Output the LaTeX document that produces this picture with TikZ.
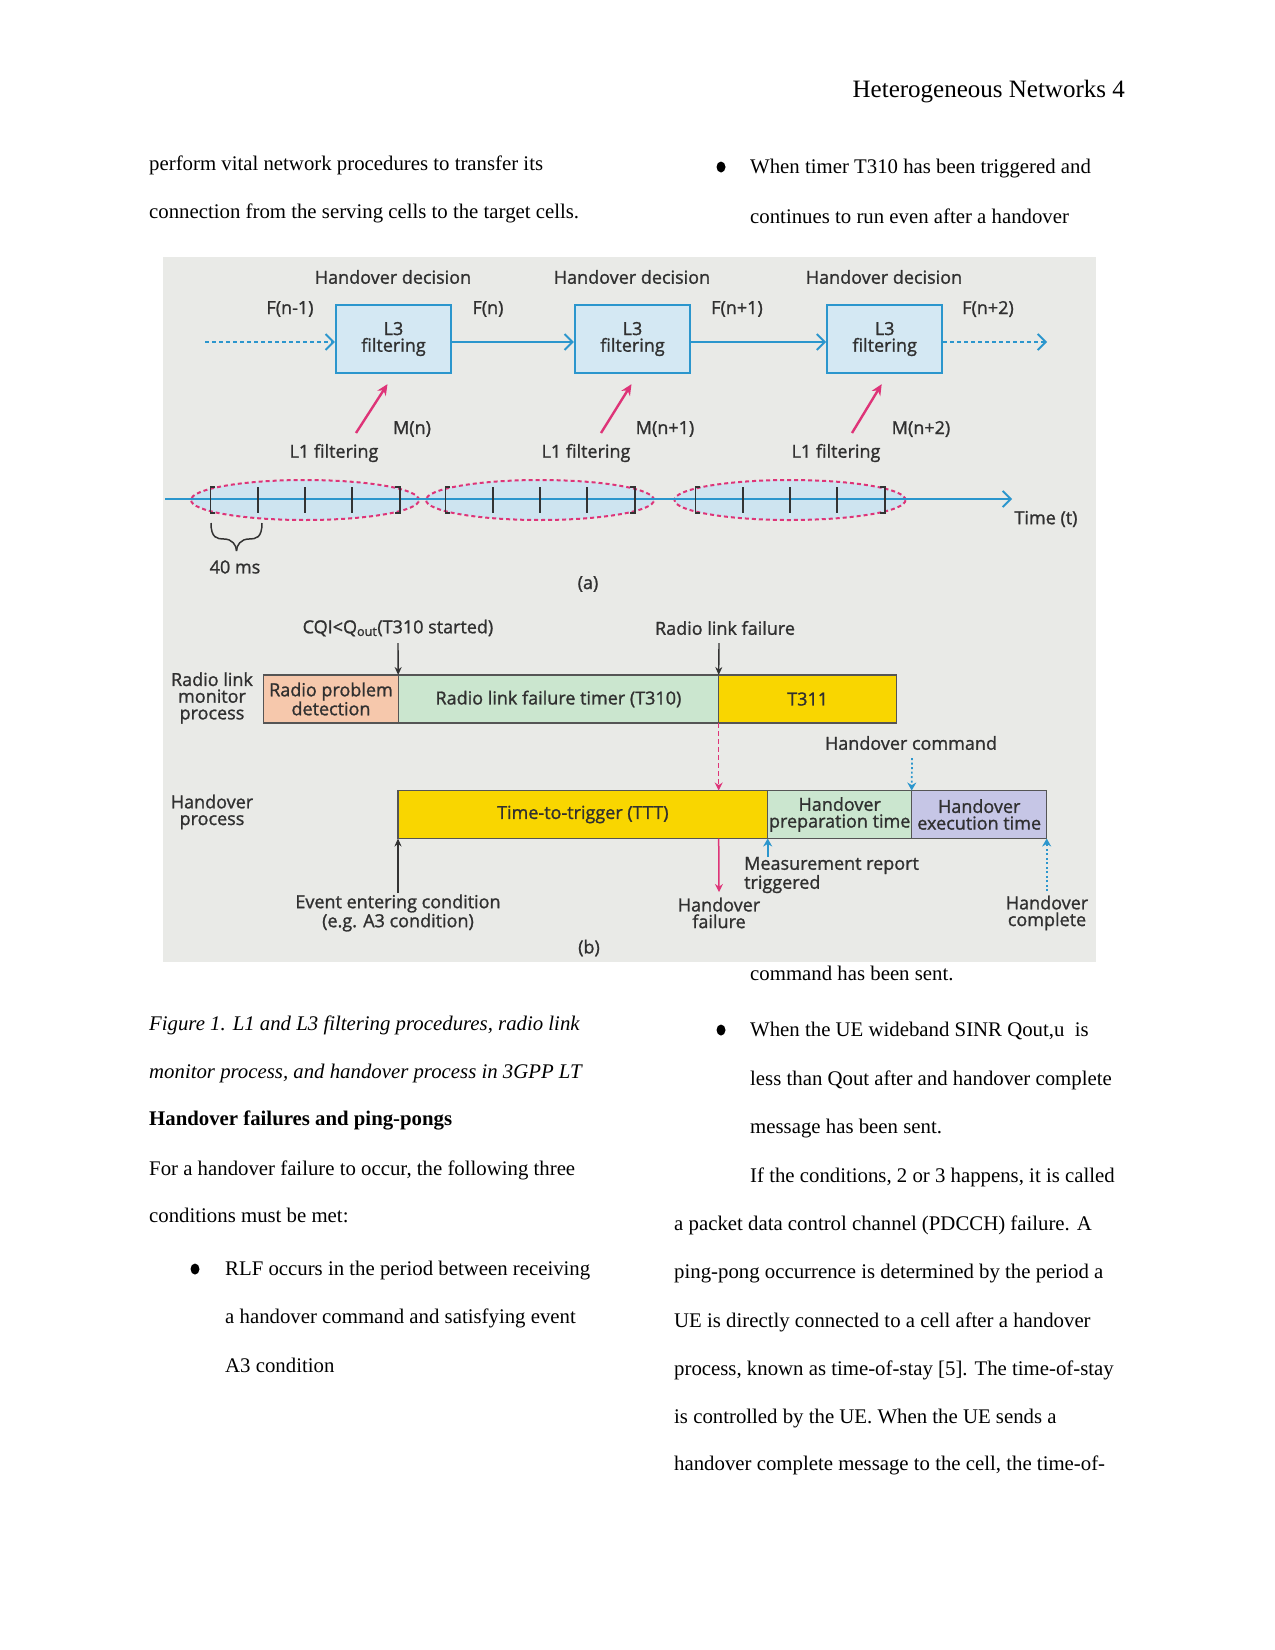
\documentclass[tikz,border=0pt]{standalone}
\usepackage{fontspec}
\setmainfont{Liberation Serif}
\newfontfamily\figfamily{Open Sans}[FakeBold=1.2]
\usetikzlibrary{arrows.meta, positioning, shapes.geometric}

\definecolor{figbg}{RGB}{233,234,231}
\definecolor{figink}{RGB}{48,48,48}
\definecolor{flowblue}{RGB}{43,150,205}
\definecolor{l3fill}{RGB}{212,232,243}
\definecolor{measpink}{RGB}{222,52,120}
\definecolor{ovalfill}{RGB}{206,228,240}
\definecolor{peach}{RGB}{246,200,172}
\definecolor{mint}{RGB}{203,230,207}
\definecolor{ttyellow}{RGB}{249,214,0}
\definecolor{lavender}{RGB}{198,198,230}
\definecolor{barline}{RGB}{85,85,85}

\newcommand{\bodysize}{\fontsize{20.8pt}{25pt}\selectfont}
\newcommand{\figsize}{\figfamily\fontsize{18pt}{16.7pt}\selectfont}

\tikzset{
  body/.style={font=\bodysize, anchor=base west, inner sep=0pt},
  figtext/.style={font=\figsize, text=figink, align=center, inner sep=0pt},
  l3box/.style={figtext, draw=flowblue, fill=l3fill, line width=2.2pt, minimum width=115pt, minimum height=68pt},
  ovalL1/.style={ellipse, draw=measpink, fill=ovalfill, dash pattern=on 4pt off 3pt, line width=2pt, minimum width=228pt, minimum height=40pt, inner sep=0pt},
  barcell/.style={figtext, draw=barline, line width=1.3pt, minimum height=48pt, outer sep=0pt},
  flowarrow/.style={draw=flowblue, line width=1.9pt, -{Straight Barb[length=8pt,width=16pt]}},
  flowdash/.style={flowarrow, dash pattern=on 4pt off 3pt},
  measarrow/.style={draw=measpink, line width=2.4pt, -{Stealth[length=11pt,width=10pt]}},
  tickline/.style={draw=black!80, line width=1.8pt},
  eventarrow/.style={draw=black!80, line width=1.4pt, -{Stealth[length=8pt,width=7pt]}},
  failarrow/.style={draw=measpink, line width=1.5pt, -{Stealth[length=8pt,width=8pt]}},
  faildash/.style={failarrow, dash pattern=on 5pt off 3pt},
  cmdarrow/.style={draw=flowblue, line width=1.7pt, -{Stealth[length=8pt,width=9pt]}},
  cmddot/.style={cmdarrow, dash pattern=on 2pt off 2.5pt}
}

\begin{document}
\begin{tikzpicture}[x=1pt, y=-1pt]
\path[use as bounding box, fill=white] (0,0) rectangle (1275,1650);

% page text
\node[body, anchor=base east, font=\fontsize{25pt}{30pt}\selectfont] (hdr) at (1125,97) {Heterogeneous Networks 4};
\node[body] (lA1) at (149,170) {perform vital network procedures to transfer its};
\node[body] (lA2) at (149,218) {connection from the serving cells to the target cells.};
\node[body, font=\bodysize\itshape] (cap1) at (149,1030) {Figure 1. L1 and L3 filtering procedures, radio link};
\node[body, font=\bodysize\itshape] (cap2) at (149,1078) {monitor process, and handover process in 3GPP LT};
\node[body, font=\bodysize\bfseries] (head) at (149,1125) {Handover failures and ping-pongs};
\node[body] (lB1) at (149,1175) {For a handover failure to occur, the following three};
\node[body] (lB2) at (149,1222) {conditions must be met:};
\node[body] (lC1) at (225,1275) {RLF occurs in the period between receiving};
\node[body] (lC2) at (225,1323) {a handover command and satisfying event};
\node[body] (lC3) at (225,1372) {A3 condition};

\node[body] (rA1) at (750,173) {When timer T310 has been triggered and};
\node[body] (rA2) at (750,223) {continues to run even after a handover};
\node[body] (rA3) at (750,980) {command has been sent.};
\node[body] (rB1) at (750,1036) {When the UE wideband SINR Qout,u\ \ is};
\node[body] (rB2) at (750,1085) {less than Qout after and handover complete};
\node[body] (rB3) at (750,1133) {message has been sent.};
\node[body] (rC1) at (750,1182) {If the conditions, 2 or 3 happens, it is called};
\node[body] (rC2) at (674,1230) {a packet data control channel (PDCCH) failure. A};
\node[body] (rC3) at (674,1278) {ping-pong occurrence is determined by the period a};
\node[body] (rC4) at (674,1327) {UE is directly connected to a cell after a handover};
\node[body] (rC5) at (674,1375) {process, known as time-of-stay [5]. The time-of-stay};
\node[body] (rC6) at (674,1423) {is controlled by the UE. When the UE sends a};
\node[body] (rC7) at (674,1470) {handover complete message to the cell, the time-of-};

\foreach \bx/\by in {721/167, 721/1030, 195/1269}
  \fill (\bx,\by) ellipse [x radius=4.5, y radius=5.5];

% figure
\fill[figbg] (163,257) rectangle (1096,962);

% (a) L1/L3 filtering
\node[l3box] (l3a) at (393.5,339) {L3\\filtering};
\node[l3box] (l3b) at (632.5,339) {L3\\filtering};
\node[l3box] (l3c) at (884.7,339) {L3\\filtering};

\node[figtext] (hd1) at (393,277) {Handover decision};
\node[figtext] (hd2) at (632,277) {Handover decision};
\node[figtext] (hd3) at (884,277) {Handover decision};
\node[figtext] (fa) at (290,309) {F(n-1)};
\node[figtext] (fb) at (488,309) {F(n)};
\node[figtext] (fc) at (737,309) {F(n+1)};
\node[figtext] (fd) at (988,309) {F(n+2)};

\coordinate (fin) at (205,342);
\coordinate (fout) at (1047,342);
\draw[flowdash] (fin) -- (fin -| l3a.west);
\draw[flowarrow] (l3a.east |- fin) -- (l3b.west |- fin);
\draw[flowarrow] (l3b.east |- fin) -- (l3c.west |- fin);
\draw[flowdash] (l3c.east |- fout) -- (fout);

\node[figtext] (ma) at (412,429) {M(n)};
\node[figtext] (mb) at (665,429) {M(n+1)};
\node[figtext] (mc) at (921,429) {M(n+2)};
\node[figtext] (la) at (334,453) {L1 filtering};
\node[figtext] (lb) at (586,453) {L1 filtering};
\node[figtext] (lc) at (836,453) {L1 filtering};

\coordinate (mfa) at (356,433);
\coordinate (mfb) at (601,433);
\coordinate (mfc) at (852,433);
\draw[measarrow] (mfa) -- ([xshift=-6pt,yshift=-10pt]l3a.south);
\draw[measarrow] (mfb) -- ([xshift=-1pt,yshift=-10pt]l3b.south);
\draw[measarrow] (mfc) -- ([xshift=-3pt,yshift=-10pt]l3c.south);

\node[ovalL1] (ova) at (305,500) {};
\node[ovalL1] (ovb) at (540,500) {};
\node[ovalL1, minimum width=231pt] (ovc) at (790,500) {};

\coordinate (tstart) at (165,499);
\coordinate (tend) at (1012,499);
\draw[flowarrow] (tstart) -- (tend);
\node[figtext] (timet) at (1046,519) {Time (t)};

\foreach \c in {305,540,790}{
  \foreach \k in {-1,0,1}
    \draw[tickline] (\c+\k*47.3,487) -- (\c+\k*47.3,513);
  \draw[tickline] (\c-94.6+5,487) -- ++(-5,0) -- ++(0,26) -- ++(5,0);
  \draw[tickline] (\c+94.6-5,487) -- ++(5,0) -- ++(0,26) -- ++(-5,0);
}

% 40 ms brace
\coordinate (bra) at (211,523);
\coordinate (brb) at (262,523);
\coordinate (brtip) at (236.5,551);
\draw[tickline, line width=1.5pt] (bra) .. controls +(0,15) and +(-7,0) .. (224,539) .. controls +(8,0) and +(0,-6) .. (brtip);
\draw[tickline, line width=1.5pt] (brb) .. controls +(0,15) and +(7,0) .. (249,539) .. controls +(-8,0) and +(0,-6) .. (brtip);
\node[figtext] (forty) at (235,567) {40 ms};
\node[figtext] (capa) at (588,584) {(a)};

% (b) radio link monitor and handover process
\node[figtext] (rlm) at (212,698) {Radio link\\monitor\\process};
\node[figtext] (hop) at (212,812) {Handover\\process};

\node[barcell, fill=peach, minimum width=134.4pt] (rpd) at (331,699) {Radio problem\\detection};
\node[barcell, fill=mint, minimum width=320.5pt, right=0pt of rpd] (t310) {Radio link failure timer (T310)};
\node[barcell, fill=ttyellow, minimum width=178pt, right=0pt of t310] (t311) {T311};

\node[barcell, fill=ttyellow, minimum width=369.7pt] (ttt) at (582.85,814.5) {Time-to-trigger (TTT)};
\node[barcell, fill=mint, minimum width=144pt, right=0pt of ttt] (prep) {Handover\\preparation time};
\node[barcell, fill=lavender, minimum width=135pt, right=0pt of prep] (exec) {Handover\\execution time};

\node[figtext] (cqi) at (398,628) {CQI<Q\textsubscript{out}(T310 started)};
\node[figtext] (rlf) at (725,628) {Radio link failure};
\node[figtext] (hocmd) at (911,743) {Handover command};

\coordinate (cqitop) at (398,643);
\coordinate (rlftop) at (719,643);
\coordinate (cmdtop) at (912,758);
\draw[eventarrow] (cqitop) -- (t310.north west);
\draw[eventarrow] (rlftop) -- (t311.north west);
\draw[faildash] (t311.south west) -- (t311.south west |- ttt.north);
\draw[cmddot] (cmdtop) -- (exec.north west);

\coordinate (evtfoot) at (398,893);
\coordinate (failfoot) at (719,892);
\coordinate (measfoot) at (767.7,857);
\coordinate (donefoot) at (1046.7,891);
\draw[eventarrow] (evtfoot) -- (ttt.south west);
\draw[failarrow] (t311.south west |- ttt.south) -- (failfoot);
\draw[cmdarrow] (measfoot) -- (prep.south west);
\draw[cmddot] (donefoot) -- (exec.south east);

\node[figtext] (evt) at (398,913) {Event entering condition\\(e.g. A3 condition)};
\node[figtext] (hofail) at (719,913) {Handover\\failure};
\node[figtext, align=left, anchor=west] (measrep) at (744,875) {Measurement report\\triggered};
\node[figtext] (hodone) at (1047,913) {Handover\\complete};
\node[figtext] (capb) at (589,948) {(b)};
\end{tikzpicture}
\end{document}
